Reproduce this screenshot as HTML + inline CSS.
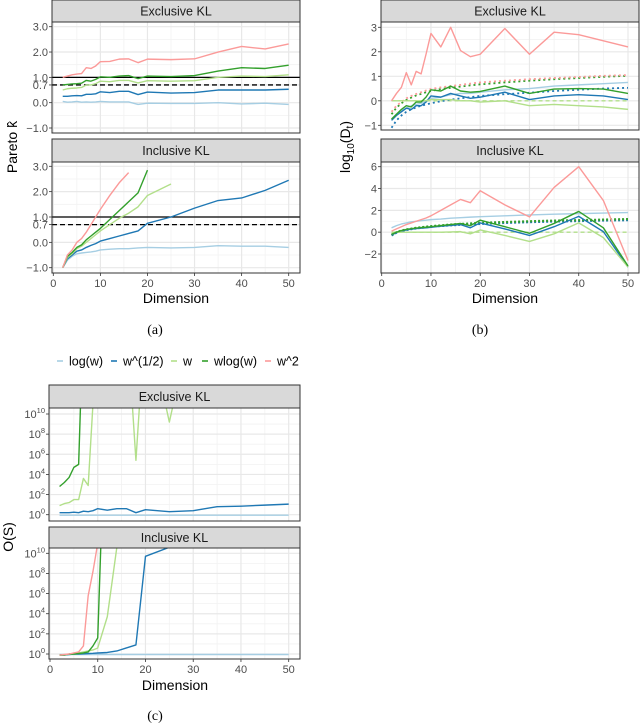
<!DOCTYPE html>
<html><head><meta charset="utf-8">
<style>
html,body{margin:0;padding:0;background:#fff;}
svg{display:block;font-family:"Liberation Sans",sans-serif;}
.cap{font-family:"Liberation Serif",serif;}
</style></head>
<body>
<svg id="fig" width="640" height="726" viewBox="0 0 640 726" xmlns="http://www.w3.org/2000/svg"></svg>
<script>
const dims = [2,3,4,5,6,7,8,9,10,12,14,16,18,20,25,30,35,40,45,50];
const seriesNames = ["log(w)","w^(1/2)","w","wlog(w)","w^2"];
const seriesColors = ["#a6cee3","#1f78b4","#b2df8a","#33a02c","#fb9a99"];
const N = null;

// Panel (a) Pareto k, exclusive
const aExLog  = [0.05,0.02,0.03,0.05,0.02,0.03,0.02,0.03,0.05,0.03,0.03,0.03,-0.07,-0.02,-0.03,-0.03,0.0,-0.05,-0.02,-0.07];
const aExSqrt = [0.25,0.25,0.27,0.28,0.27,0.33,0.33,0.35,0.43,0.4,0.45,0.45,0.32,0.42,0.38,0.4,0.5,0.5,0.5,0.53];
const aExW    = [0.5,0.55,0.57,0.58,0.6,0.7,0.7,0.75,0.85,0.83,0.88,0.88,0.78,0.87,0.85,0.87,1.0,1.05,1.03,1.1];
const aExWlog = [0.7,0.72,0.74,0.75,0.77,0.88,0.85,0.92,1.02,1.0,1.05,1.07,0.95,1.05,1.03,1.07,1.25,1.38,1.35,1.48];
const aExW2   = [1.0,1.05,1.1,1.13,1.15,1.38,1.35,1.45,1.62,1.63,1.72,1.73,1.58,1.72,1.7,1.73,2.0,2.22,2.12,2.32];
// Panel (a) inclusive
const aInLog  = [-1.0,-0.7,-0.55,-0.45,-0.42,-0.4,-0.38,-0.35,-0.3,-0.27,-0.25,-0.25,-0.22,-0.2,-0.22,-0.2,-0.13,-0.15,-0.15,-0.2];
const aInSqrt = [-1.0,-0.65,-0.5,-0.35,-0.3,-0.2,-0.12,-0.05,0.05,0.15,0.25,0.35,0.45,0.75,1.0,1.35,1.65,1.75,2.05,2.45];
const aInW    = [-1.0,-0.6,-0.45,-0.25,-0.15,0.0,0.15,0.3,0.45,0.7,0.95,1.15,1.4,1.85,2.3,N,N,N,N,N];
const aInWlog = [-1.0,-0.55,-0.4,-0.2,-0.1,0.1,0.25,0.4,0.55,0.9,1.25,1.6,1.95,2.85,N,N,N,N,N,N];
const aInW2   = [-1.0,-0.5,-0.3,0.0,0.15,0.4,0.7,1.0,1.3,1.85,2.35,2.75,N,N,N,N,N,N,N,N];
const aTicks = [3,2,1,0.7,0,-1];
const aTickLabels = ["3.0","2.0","1.0","0.7","0.0","\u22121.0"];

// Panel (b) log10(D_t), exclusive
const bExLog  = [-0.75,-0.55,-0.4,-0.3,-0.2,-0.15,-0.1,0,0.1,0.15,0.25,0.3,0.3,0.35,0.45,0.5,0.6,0.65,0.7,0.75];
const bExSqrt = [-0.8,-0.6,-0.45,-0.3,-0.35,-0.2,-0.2,-0.05,0.2,0.15,0.3,0.2,0.1,0.15,0.35,0.05,0.2,0.25,0.2,0.05];
const bExW    = [0,0,0,0,0,0,0,0,0.05,0.05,0.05,0,0,-0.05,0,-0.2,-0.15,-0.2,-0.25,-0.35];
const bExWlog = [-0.75,-0.55,-0.35,-0.2,-0.25,-0.05,-0.05,0.15,0.45,0.4,0.6,0.4,0.35,0.38,0.6,0.3,0.48,0.5,0.48,0.3];
const bExW2   = [0,0.3,0.55,1.15,0.65,1.2,1.1,1.9,2.75,2.2,3.0,2.05,1.8,1.9,2.95,1.9,2.8,2.7,2.45,2.2];
const bExRefSqrt = [-1.1,-0.8,-0.6,-0.45,-0.35,-0.27,-0.2,-0.15,-0.1,-0.02,0.05,0.1,0.15,0.2,0.27,0.33,0.4,0.45,0.5,0.53];
const bExRefW    = [0,0,0,0,0,0,0,0,0,0,0,0,0,0,0,0,0,0,0,0];
const bExRefWlog = [-0.55,-0.28,-0.1,0.03,0.13,0.22,0.28,0.35,0.4,0.48,0.53,0.58,0.63,0.67,0.75,0.82,0.88,0.93,0.98,1.02];
const bExRefW2   = [-0.45,-0.2,-0.05,0.1,0.2,0.28,0.35,0.42,0.48,0.55,0.6,0.65,0.7,0.75,0.82,0.88,0.93,0.97,1.02,1.05];
// Panel (b) inclusive
const bInLog  = [0.4,0.6,0.75,0.85,0.95,1.0,1.05,1.1,1.15,1.2,1.28,1.33,1.38,1.42,1.5,1.58,1.65,1.7,1.75,1.8];
const bInSqrt = [-0.25,-0.05,0.1,0.2,0.28,0.33,0.37,0.4,0.45,0.55,0.62,0.7,0.4,0.85,0.3,-0.3,0.5,1.45,0.05,-3.2];
const bInW    = [-0.1,0,0,0,0,0,0,0,0,0,0.02,0.05,-0.15,0.2,-0.3,-0.85,-0.15,0.85,-0.5,-3.2];
const bInWlog = [-0.2,0.0,0.15,0.25,0.32,0.38,0.42,0.45,0.5,0.6,0.7,0.8,0.6,1.1,0.5,-0.1,0.8,1.9,0.4,-3.1];
const bInW2   = [0.1,0.3,0.5,0.7,0.85,1.0,1.15,1.3,1.5,2.0,2.5,3.0,2.7,3.8,2.5,1.4,4.1,6.0,2.9,-2.6];
const bInRefSqrt = [-0.3,-0.05,0.1,0.2,0.28,0.35,0.4,0.45,0.5,0.57,0.63,0.68,0.72,0.76,0.85,0.92,0.98,1.02,1.07,1.1];
const bInRefW    = [0,0,0,0,0,0,0,0,0,0,0,0,0,0,0,0,0,0,0,0];
const bInRefWlog = [-0.25,0.0,0.15,0.25,0.32,0.4,0.45,0.5,0.55,0.62,0.7,0.75,0.8,0.85,0.93,1.0,1.06,1.1,1.15,1.2];
const bExTicks = [3,2,1,0,-1];
const bExTickLabels = ["3","2","1","0","\u22121"];
const bInTicks = [6,4,2,0,-2];
const bInTickLabels = ["6","4","2","0","\u22122"];

// Panel (c) log10 O(S), exclusive (values above ~10.6 are clipped)
const cExLog  = [-0.05,-0.05,-0.05,-0.05,-0.05,-0.05,-0.05,-0.05,-0.05,-0.05,-0.05,-0.05,-0.05,-0.05,-0.05,-0.05,-0.05,-0.05,-0.05,-0.05];
const cExSqrt = [0.2,0.2,0.2,0.25,0.2,0.35,0.3,0.4,0.6,0.45,0.6,0.6,0.2,0.5,0.3,0.4,0.8,0.85,0.95,1.05];
const cExW    = [0.9,1.1,1.2,1.5,1.5,3.6,2.9,11,20,20,20,20,5.4,20,9.2,20,20,20,20,20];
const cExWlog = [2.8,3.2,3.7,4.7,5.0,20,20,20,20,20,20,20,20,20,20,20,20,20,20,20];
const cExW2   = [20,20,20,20,20,20,20,20,20,20,20,20,20,20,20,20,20,20,20,20];
// Panel (c) inclusive
const cInLog  = [-0.05,-0.05,-0.05,-0.05,-0.05,-0.05,-0.05,-0.05,-0.05,-0.05,-0.05,-0.05,-0.05,-0.05,-0.05,-0.05,-0.05,-0.05,-0.05,-0.05];
const cInSqrt = [-0.1,-0.1,-0.05,0,0,0.02,0.05,0.07,0.1,0.15,0.3,0.6,0.9,9.7,10.6,20,20,20,20,20];
const cInW    = [-0.1,-0.1,0,0,0.1,0.2,0.3,0.4,0.6,3.7,10.6,20,20,20,20,20,20,20,20,20];
const cInWlog = [-0.1,-0.1,0,0,0.05,0.1,0.2,0.8,1.6,30,30,30,30,30,30,30,30,30,30,30];
const cInW2   = [-0.1,-0.05,0,0.1,0.2,0.8,5.8,8.2,11,20,20,20,20,20,20,20,20,20,20,20];
const cTicks = [10,8,6,4,2,0];
const cTickLabels = ["10","8","6","4","2","0"];
const xTicks = [0,10,20,30,40,50];

const NS = "http://www.w3.org/2000/svg";
const fig = document.getElementById("fig");
function el(tag, attrs, parent, text){
  const e = document.createElementNS(NS, tag);
  for (const k in attrs) e.setAttribute(k, attrs[k]);
  if (text !== undefined) e.textContent = text;
  (parent || fig).appendChild(e);
  return e;
}
let clipId = 0;

function makeScaleX(x0, x50){ return d => x0 + (x50 - x0) * d / 50; }
function makeScaleY(vA, pA, vB, pB){ return v => pA + (v - vA) * (pB - pA) / (vB - vA); }

function panel(o){
  const g = el("g", {});
  
  
  const s = el("rect", {x:o.L, y:o.stripTop, width:o.R-o.L, height:o.T-o.stripTop, fill:"#d9d9d9", stroke:"#333", "stroke-width":1}, g);
  
  
  const st = el("text", {x:(o.L+o.R)/2, y:(o.stripTop+o.T)/2+4.5, "text-anchor":"middle", "font-size":12.5, fill:"#1a1a1a"}, g, o.title);
  
  
  const grid = el("g", {}, g);
  
  
  for (let d = 5; d <= 50; d += 10){
    const x = o.sx(d);
    el("line", {x1:x, x2:x, y1:o.T, y2:o.B, stroke:"#f2f2f2", "stroke-width":0.8}, grid);
  }
  (o.minorY || []).forEach(v => {
    const y = o.sy(v);
    el("line", {x1:o.L, x2:o.R, y1:y, y2:y, stroke:"#f2f2f2", "stroke-width":0.8}, grid);
  });
  xTicks.forEach(d => {
    const x = o.sx(d);
    el("line", {x1:x, x2:x, y1:o.T, y2:o.B, stroke:"#e8e8e8", "stroke-width":1.2}, grid);
  });
  o.yTicks.forEach(v => {
    const y = o.sy(v);
    el("line", {x1:o.L, x2:o.R, y1:y, y2:y, stroke:"#e8e8e8", "stroke-width":1.2}, grid);
  });
  o.yTicks.forEach((v, i) => {
    const y = o.sy(v);
    el("line", {x1:o.L-3, x2:o.L, y1:y, y2:y, stroke:"#333", "stroke-width":0.8}, g);
    if (o.logLabels){
      const t = el("text", {x:o.L-4, y:y+4, "text-anchor":"end", "font-size":11, fill:"#4d4d4d"}, g);
      el("tspan", {}, t, "10");
      el("tspan", {dy:-5, "font-size":7.5}, t, o.yLabels[i]);
      
      
    } else {
      const t = el("text", {x:o.L-4, y:y+4, "text-anchor":"end", "font-size":11, fill:"#4d4d4d"}, g, o.yLabels[i]);
      
      
    }
  });
  if (o.xAxis){
    xTicks.forEach(d => {
      const x = o.sx(d);
      el("line", {x1:x, x2:x, y1:o.B, y2:o.B+3, stroke:"#333", "stroke-width":0.8}, g);
      const t = el("text", {x:x, y:o.B+14, "text-anchor":"middle", "font-size":11, fill:"#4d4d4d"}, g, String(d));
      
      
    });
  }
  clipId++;
  const cp = el("clipPath", {id:"cp"+clipId}, g);
  el("rect", {x:o.L, y:o.T, width:o.R-o.L, height:o.B-o.T}, cp);
  const plot = el("g", {"clip-path":"url(#cp"+clipId+")"}, g);
  
  
  o.plot = plot; o.g = g;
  return o;
}
function frame(o){
  const r = el("rect", {x:o.L, y:o.T, width:o.R-o.L, height:o.B-o.T, fill:"none", stroke:"#333", "stroke-width":1}, o.g);
  
  
}
function line(o, vals, color, name, extra){
  let d = "", pen = false;
  vals.forEach((v, i) => {
    if (v === null){ pen = false; return; }
    d += (pen ? "L" : "M") + o.sx(dims[i]).toFixed(2) + "," + o.sy(v).toFixed(2);
    pen = true;
  });
  const attrs = {d:d, fill:"none", stroke:color, "stroke-width":1.4, "stroke-linejoin":"round"};
  for (const k in (extra||{})) attrs[k] = extra[k];
  const p = el("path", attrs, o.plot);
  
  
}
function hline(o, v, dash, name){
  const y = o.sy(v);
  const l = el("line", {x1:o.L, x2:o.R, y1:y, y2:y, stroke:"#000", "stroke-width":1.3, "stroke-dasharray":dash||"none"}, o.plot);
  
  
}

// ---------- Panel (a)
const aSx = makeScaleX(53.3, 288.7);
const aTop = panel({name:"panel-a-exclusive", title:"Exclusive KL", L:52, R:300, stripTop:0, T:22, B:133,
  sx:aSx, sy:makeScaleY(3, 26.7, -1, 128), yTicks:aTicks, yLabels:aTickLabels, minorY:[2.5,1.5,-0.5]});
hline(aTop, 1, null, "k-threshold-1");
hline(aTop, 0.7, "5,3", "k-threshold-0.7");
[aExLog,aExSqrt,aExW,aExWlog,aExW2].forEach((s,i)=>line(aTop, s, seriesColors[i], "a-ex-"+seriesNames[i]));
frame(aTop);
const aBot = panel({name:"panel-a-inclusive", title:"Inclusive KL", L:52, R:300, stripTop:139, T:162, B:273,
  sx:aSx, sy:makeScaleY(3, 166.3, -1, 267.7), yTicks:aTicks, yLabels:aTickLabels, minorY:[2.5,1.5,-0.5], xAxis:true});
hline(aBot, 1, null, "k-threshold-1");
hline(aBot, 0.7, "5,3", "k-threshold-0.7");
[aInLog,aInSqrt,aInW,aInWlog,aInW2].forEach((s,i)=>line(aBot, s, seriesColors[i], "a-in-"+seriesNames[i]));
frame(aBot);

// ---------- Panel (b)
const bSx = makeScaleX(381.7, 628);
const bTop = panel({name:"panel-b-exclusive", title:"Exclusive KL", L:381, R:639, stripTop:0, T:22, B:130,
  sx:bSx, sy:makeScaleY(3, 27.3, -1, 125.3), yTicks:bExTicks, yLabels:bExTickLabels, minorY:[2.5,1.5,0.5,-0.5]});
line(bTop, bExRefW, seriesColors[2], "b-ex-ref-w", {"stroke-dasharray":"4,3"});
line(bTop, bExRefSqrt, seriesColors[1], "b-ex-ref-sqrt", {"stroke-dasharray":"2,3","stroke-width":1.8});
line(bTop, bExRefWlog, seriesColors[3], "b-ex-ref-wlog", {"stroke-dasharray":"2,3","stroke-width":1.8});
line(bTop, bExRefW2, seriesColors[4], "b-ex-ref-w2", {"stroke-dasharray":"2,3","stroke-width":1.8});
[bExLog,bExSqrt,bExW,bExWlog,bExW2].forEach((s,i)=>line(bTop, s, seriesColors[i], "b-ex-"+seriesNames[i]));
frame(bTop);
const bBot = panel({name:"panel-b-inclusive", title:"Inclusive KL", L:381, R:639, stripTop:139, T:162, B:273,
  sx:bSx, sy:makeScaleY(6, 166.7, -2, 254), yTicks:bInTicks, yLabels:bInTickLabels, minorY:[5,3,1,-1], xAxis:true});
line(bBot, bInRefW, seriesColors[2], "b-in-ref-w", {"stroke-dasharray":"4,3"});
line(bBot, bInRefSqrt, seriesColors[1], "b-in-ref-sqrt", {"stroke-dasharray":"2,2","stroke-width":2.2});
line(bBot, bInRefWlog, seriesColors[3], "b-in-ref-wlog", {"stroke-dasharray":"2,2","stroke-width":2.2});
[bInLog,bInSqrt,bInW,bInWlog,bInW2].forEach((s,i)=>line(bBot, s, seriesColors[i], "b-in-"+seriesNames[i]));
frame(bBot);

// ---------- Panel (c)
const cSx = makeScaleX(50, 288.7);
const cTop = panel({name:"panel-c-exclusive", title:"Exclusive KL", L:49, R:300, stripTop:385, T:408, B:521,
  sx:cSx, sy:makeScaleY(10, 414, 0, 514.7), yTicks:cTicks, yLabels:cTickLabels, minorY:[9,7,5,3,1], logLabels:true});
[cExLog,cExSqrt,cExW,cExWlog,cExW2].forEach((s,i)=>line(cTop, s, seriesColors[i], "c-ex-"+seriesNames[i]));
frame(cTop);
const cBot = panel({name:"panel-c-inclusive", title:"Inclusive KL", L:49, R:300, stripTop:527, T:548, B:659,
  sx:cSx, sy:makeScaleY(10, 553.3, 0, 654), yTicks:cTicks, yLabels:cTickLabels, minorY:[9,7,5,3,1], logLabels:true, xAxis:true});
[cInLog,cInSqrt,cInW,cInWlog,cInW2].forEach((s,i)=>line(cBot, s, seriesColors[i], "c-in-"+seriesNames[i]));
frame(cBot);

// ---------- Axis titles and captions
function txt(attrs, content, name){
  const t = el("text", attrs, fig, content);
  
  
  return t;
}
txt({x:176, y:303, "text-anchor":"middle", "font-size":14, fill:"#000"}, "Dimension", "x-axis-title-a");
txt({x:505, y:303, "text-anchor":"middle", "font-size":14, fill:"#000"}, "Dimension", "x-axis-title-b");
txt({x:175, y:690, "text-anchor":"middle", "font-size":14, fill:"#000"}, "Dimension", "x-axis-title-c");
txt({x:0, y:0, "text-anchor":"middle", "font-size":14, fill:"#000", transform:"translate(17,147) rotate(-90)"}, "Pareto k\u0302", "y-axis-title-a");
const yb = txt({x:0, y:0, "text-anchor":"middle", "font-size":14, fill:"#000", transform:"translate(350,147) rotate(-90)"}, "", "y-axis-title-b");
el("tspan", {}, yb, "log");
el("tspan", {dy:4, "font-size":10}, yb, "10");
el("tspan", {dy:-4}, yb, "(D");
el("tspan", {dy:3, "font-size":10}, yb, "t");
el("tspan", {dy:-3}, yb, ")");
txt({x:0, y:0, "text-anchor":"middle", "font-size":14, fill:"#000", transform:"translate(13,537) rotate(-90)"}, "O(S)", "y-axis-title-c");
txt({x:155, y:334, "text-anchor":"middle", "font-size":14, fill:"#000", class:"cap"}, "(a)", "caption-a");
txt({x:480, y:334, "text-anchor":"middle", "font-size":14, fill:"#000", class:"cap"}, "(b)", "caption-b");
txt({x:155, y:720, "text-anchor":"middle", "font-size":14, fill:"#000", class:"cap"}, "(c)", "caption-c");

// ---------- Legend
const legendX = [57, 111, 171, 202, 265];
const leg = el("g", {});


seriesNames.forEach((n, i) => {
  const gi = el("g", {}, leg);
  
  
  el("line", {x1:legendX[i], x2:legendX[i]+6, y1:361, y2:361, stroke:seriesColors[i], "stroke-width":1.6}, gi);
  el("text", {x:legendX[i]+12, y:365.5, "font-size":12.5, fill:"#000"}, gi, n);
});
</script>
</body></html>
